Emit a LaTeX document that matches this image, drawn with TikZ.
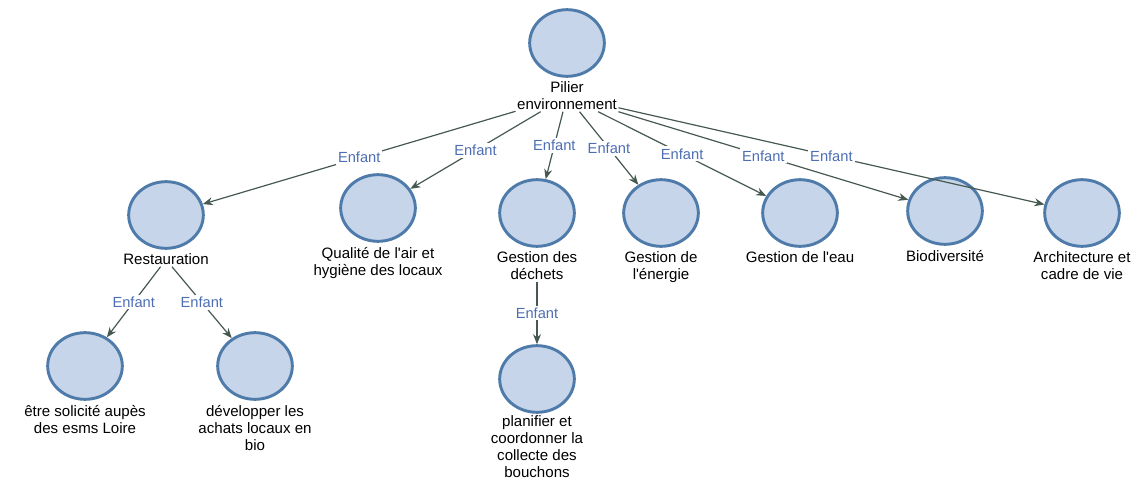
\documentclass[tikz,border=0pt]{standalone}
\usepackage{fontspec}
\setmainfont{Liberation Sans}
\usetikzlibrary{arrows.meta,shapes.geometric,positioning}
\definecolor{fondbulle}{HTML}{C6D5EA}
\definecolor{bordbulle}{HTML}{4F7BAA}
\definecolor{trait}{HTML}{46594F}
\definecolor{lien}{HTML}{4D6EB3}

\begin{document}
\begin{tikzpicture}[x=0.75pt,y=-0.75pt,
  bulle/.style={ellipse,draw=bordbulle,fill=fondbulle,line width=2.2pt,minimum width=56pt,minimum height=50pt,inner sep=0pt},
  texte/.style={align=center,font=\fontsize{11.3}{12.75}\selectfont,inner sep=1pt},
  fleche/.style={draw=trait,line width=0.9pt,-{Stealth[length=7.5pt,width=6pt]}},
  enfant/.style={fill=white,text=lien,font=\fontsize{11}{12.75}\selectfont,inner sep=1.5pt}]
  \useasboundingbox (0,0) rectangle (1142,481);

  % racine
  \node[bulle] (pilier) at (567,43) {};
  \node[texte,below=2pt of pilier] (pilier-t) {Pilier\\environnement};

  % niveau 1
  \node[bulle] (resto) at (166,215) {};
  \node[bulle] (qualite) at (378,208) {};
  \node[bulle] (dechets) at (537,213) {};
  \node[bulle] (energie) at (661,213) {};
  \node[bulle] (eau) at (800,213) {};
  \node[bulle] (biodiv) at (945,211) {};
  \node[bulle] (archi) at (1082,213) {};
  \node[texte,below=2pt of resto] (resto-t) {Restauration};
  \node[texte,below=2pt of qualite] (qualite-t) {Qualité de l\textquotesingle air et\\hygiène des locaux};
  \node[texte,below=2pt of dechets] (dechets-t) {Gestion des\\déchets};
  \node[texte,below=2pt of energie] (energie-t) {Gestion de\\l\textquotesingle énergie};
  \node[texte,below=2pt of eau] (eau-t) {Gestion de l\textquotesingle eau};
  \node[texte,below=2pt of biodiv] (biodiv-t) {Biodiversité};
  \node[texte,below=2pt of archi] (archi-t) {Architecture et\\cadre de vie};

  % niveau 2
  \node[bulle] (solicite) at (85,366) {};
  \node[bulle] (achats) at (255,366) {};
  \node[bulle] (bouchons) at (537,379) {};
  \node[texte,below=2pt of solicite] (solicite-t) {être solicité aupès\\des esms Loire};
  \node[texte,below=2pt of achats] (achats-t) {développer les\\achats locaux en\\bio};
  \node[texte,below=0pt of bouchons] (bouchons-t) {planifier et\\coordonner la\\collecte des\\bouchons};

  \draw[fleche] (pilier-t) -- node[enfant]{Enfant} (resto);
  \draw[fleche] (pilier-t) -- node[enfant]{Enfant} (qualite);
  \draw[fleche] (pilier-t) -- node[enfant]{Enfant} (dechets);
  \draw[fleche] (pilier-t) -- node[enfant]{Enfant} (energie);
  \draw[fleche] (pilier-t) -- node[enfant]{Enfant} (eau);
  \draw[fleche] (pilier-t) -- node[enfant]{Enfant} (biodiv);
  \draw[fleche] (pilier-t) -- node[enfant]{Enfant} (archi);

  \draw[fleche] (resto-t) -- node[enfant]{Enfant} (solicite);
  \draw[fleche] (resto-t) -- node[enfant]{Enfant} (achats);
  \draw[fleche] (dechets-t) -- node[enfant]{Enfant} (bouchons);
\end{tikzpicture}
\end{document}
